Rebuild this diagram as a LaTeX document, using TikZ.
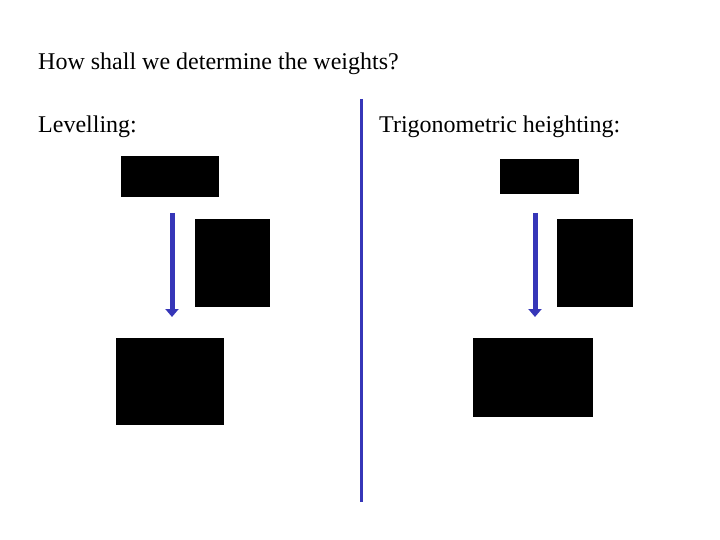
\documentclass[tikz,border=0pt]{standalone}
\usepackage{fontspec}
\setmainfont{Liberation Serif}
\usetikzlibrary{arrows.meta}
\definecolor{arrowblue}{HTML}{3636B8}
\begin{document}
\begin{tikzpicture}[x=1pt,y=-1pt,
  blk/.style={fill=black,draw=none},
  lbl/.style={anchor=base west,inner sep=0pt,font=\fontsize{24}{28}\selectfont},
  downarrow/.style={draw=arrowblue,line width=5pt,-{Triangle[width=13pt,length=8pt]}}]
\useasboundingbox (0,0) rectangle (720,540);
\node[lbl] (title) at (38,70) {How shall we determine the weights?};
\node[lbl] (lev) at (38,133) {Levelling:};
\node[lbl] (trig) at (379,133) {Trigonometric heighting:};
\coordinate (divtop) at (361,99);
\coordinate (divbot) at (361,502);
\draw[arrowblue,line width=3pt] (divtop) -- (divbot);
\fill[blk] (121,156) rectangle (219,197);
\fill[blk] (195,219) rectangle (270,307);
\fill[blk] (116,338) rectangle (224,425);
\fill[blk] (500,159) rectangle (579,194);
\fill[blk] (557,219) rectangle (633,307);
\fill[blk] (473,338) rectangle (593,417);
\coordinate (a1s) at (172,213);
\coordinate (a1e) at (172,317);
\coordinate (a2s) at (535,213);
\coordinate (a2e) at (535,317);
\draw[downarrow] (a1s) -- (a1e);
\draw[downarrow] (a2s) -- (a2e);
\end{tikzpicture}
\end{document}
